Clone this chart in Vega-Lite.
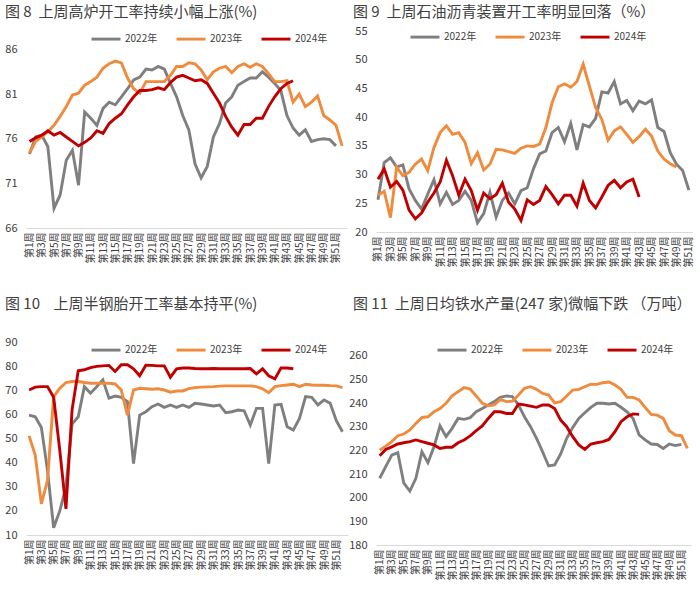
{
"$schema":"https://vega.github.io/schema/vega-lite/v6.json",
"background":"white",
"padding":{"left":4,"top":5,"right":2,"bottom":2},
"config":{
 "font":"Noto Sans CJK SC",
 "view":{"stroke":null},
 "line":{"strokeWidth":2.9},
 "axisX":{"labelExpr":"'第' + datum.value + '周'","labelAngle":-90,"labelFontSize":10,"labelColor":"#404040","ticks":false,"grid":false,"domainColor":"#d9d9d9","domainWidth":1,"title":null,"labelPadding":4,"labelOverlap":false,"labelBound":false,"labelFlush":false},
 "axisY":{"labelFontSize":11,"labelColor":"#404040","ticks":false,"grid":false,"domain":false,"title":null,"labelPadding":9},
 "legend":{"orient":"none","direction":"horizontal","title":null,"symbolType":"stroke","symbolStrokeWidth":3,"symbolSize":840,"labelFontSize":10,"labelColor":"#404040","labelOffset":3,"columnPadding":12},
 "title":{"anchor":"start","frame":"group","fontSize":15,"fontWeight":"normal","color":"#404040"}
},
"datasets":{
"p1":[
{"周":1,"2022年":74.3,"2023年":74.4,"2024年":75.7},
{"周":2,"2022年":76.2,"2023年":75.7,"2024年":76.1},
{"周":3,"2022年":76.4,"2023年":76.2,"2024年":76.4},
{"周":4,"2022年":75.1,"2023年":76.8,"2024年":76.9},
{"周":5,"2022年":68.2,"2023年":77.5,"2024年":76.4},
{"周":6,"2022年":69.7,"2023年":78.5,"2024年":76.7},
{"周":7,"2022年":73.6,"2023年":79.6,"2024年":76.2},
{"周":8,"2022年":74.7,"2023年":80.9,"2024年":75.7},
{"周":9,"2022年":70.8,"2023年":81.1,"2024年":75.2},
{"周":10,"2022年":79.0,"2023年":82.0,"2024年":75.6},
{"周":11,"2022年":78.3,"2023年":82.4,"2024年":76.1},
{"周":12,"2022年":77.5,"2023年":82.9,"2024年":76.9},
{"周":13,"2022年":79.4,"2023年":83.9,"2024年":76.6},
{"周":14,"2022年":80.1,"2023年":84.4,"2024年":77.7},
{"周":15,"2022年":79.8,"2023年":84.7,"2024年":78.3},
{"周":16,"2022年":80.7,"2023年":84.5,"2024年":78.8},
{"周":17,"2022年":81.6,"2023年":82.8,"2024年":79.8},
{"周":18,"2022年":82.6,"2023年":81.6,"2024年":80.7},
{"周":19,"2022年":82.9,"2023年":81.1,"2024年":81.4},
{"周":20,"2022年":83.8,"2023年":82.4,"2024年":81.4},
{"周":21,"2022年":83.7,"2023年":82.4,"2024年":81.5},
{"周":22,"2022年":84.1,"2023年":82.4,"2024年":81.7},
{"周":23,"2022年":83.8,"2023年":82.4,"2024年":81.5},
{"周":24,"2022年":82.2,"2023年":83.1,"2024年":82.3},
{"周":25,"2022年":80.7,"2023年":84.1,"2024年":82.9},
{"周":26,"2022年":78.6,"2023年":84.1,"2024年":83.1},
{"周":27,"2022年":77.0,"2023年":84.5,"2024年":82.8},
{"周":28,"2022年":73.2,"2023年":84.4,"2024年":82.5},
{"周":29,"2022年":71.6,"2023年":83.7,"2024年":82.6},
{"周":30,"2022年":72.9,"2023年":82.6,"2024年":82.2},
{"周":31,"2022年":76.2,"2023年":83.5,"2024年":81.1},
{"周":32,"2022年":77.7,"2023年":83.9,"2024年":80.0},
{"周":33,"2022年":80.0,"2023年":84.1,"2024年":78.5},
{"周":34,"2022年":80.7,"2023年":83.4,"2024年":77.3},
{"周":35,"2022年":82.0,"2023年":84.1,"2024年":76.4},
{"周":36,"2022年":82.4,"2023年":84.4,"2024年":77.6},
{"周":37,"2022年":82.8,"2023年":84.0,"2024年":77.6},
{"周":38,"2022年":82.8,"2023年":84.4,"2024年":78.3},
{"周":39,"2022年":83.5,"2023年":84.1,"2024年":78.3},
{"周":40,"2022年":82.9,"2023年":83.3,"2024年":79.6},
{"周":41,"2022年":82.2,"2023年":82.4,"2024年":80.7},
{"周":42,"2022年":81.4,"2023年":82.4,"2024年":81.6},
{"周":43,"2022年":78.6,"2023年":82.5,"2024年":82.2},
{"周":44,"2022年":77.2,"2023年":80.1,"2024年":82.5},
{"周":45,"2022年":76.4,"2023年":81.0},
{"周":46,"2022年":77.0,"2023年":79.6},
{"周":47,"2022年":75.7,"2023年":80.1},
{"周":48,"2022年":75.9,"2023年":80.8},
{"周":49,"2022年":76.0,"2023年":78.6},
{"周":50,"2022年":75.9,"2023年":78.1},
{"周":51,"2022年":75.2,"2023年":77.5},
{"周":52,"2023年":75.2}
],
"p2":[
{"周":1,"2022年":25.6,"2023年":26.4,"2024年":29.2},
{"周":2,"2022年":32.1,"2023年":27.1,"2024年":31.0},
{"周":3,"2022年":32.9,"2023年":22.5,"2024年":27.8},
{"周":4,"2022年":31.3,"2023年":31.3,"2024年":28.8},
{"周":5,"2022年":31.7,"2023年":29.8,"2024年":27.3},
{"周":6,"2022年":27.5,"2023年":30.4,"2024年":23.8},
{"周":7,"2022年":25.5,"2023年":31.8,"2024年":22.3},
{"周":8,"2022年":24.0,"2023年":32.7,"2024年":23.3},
{"周":9,"2022年":26.6,"2023年":30.7,"2024年":25.2},
{"周":10,"2022年":29.1,"2023年":34.7,"2024年":26.8},
{"周":11,"2022年":24.9,"2023年":37.3,"2024年":28.7},
{"周":12,"2022年":26.9,"2023年":38.5,"2024年":32.5},
{"周":13,"2022年":24.8,"2023年":37.0,"2024年":29.8},
{"周":14,"2022年":25.5,"2023年":37.3,"2024年":26.4},
{"周":15,"2022年":27.1,"2023年":35.6,"2024年":29.2},
{"周":16,"2022年":25.5,"2023年":31.9,"2024年":27.2},
{"周":17,"2022年":21.6,"2023年":33.8,"2024年":23.8},
{"周":18,"2022年":23.2,"2023年":30.8,"2024年":26.8},
{"周":19,"2022年":26.9,"2023年":31.8,"2024年":25.8},
{"周":20,"2022年":22.6,"2023年":34.4,"2024年":26.5},
{"周":21,"2022年":25.5,"2023年":34.3,"2024年":28.5},
{"周":22,"2022年":26.8,"2023年":34.0,"2024年":25.2},
{"周":23,"2022年":24.9,"2023年":33.7,"2024年":24.0},
{"周":24,"2022年":27.2,"2023年":34.6,"2024年":22.0},
{"周":25,"2022年":27.7,"2023年":35.0,"2024年":25.6},
{"周":26,"2022年":31.0,"2023年":34.9,"2024年":24.8},
{"周":27,"2022年":33.6,"2023年":35.3,"2024年":25.5},
{"周":28,"2022年":34.1,"2023年":38.2,"2024年":27.9},
{"周":29,"2022年":37.3,"2023年":42.5,"2024年":26.5},
{"周":30,"2022年":38.2,"2023年":45.3,"2024年":24.9},
{"周":31,"2022年":35.7,"2023年":45.8,"2024年":26.4},
{"周":32,"2022年":38.9,"2023年":45.2,"2024年":26.4},
{"周":33,"2022年":34.3,"2023年":46.2,"2024年":24.5},
{"周":34,"2022年":38.7,"2023年":49.2,"2024年":28.5},
{"周":35,"2022年":38.3,"2023年":45.4,"2024年":25.5},
{"周":36,"2022年":39.8,"2023年":41.7,"2024年":24.2},
{"周":37,"2022年":44.4,"2023年":39.6,"2024年":26.1},
{"周":38,"2022年":44.2,"2023年":36.0,"2024年":28.1},
{"周":39,"2022年":46.2,"2023年":37.6,"2024年":29.0},
{"周":40,"2022年":42.3,"2023年":38.3,"2024年":27.7},
{"周":41,"2022年":42.9,"2023年":37.0,"2024年":28.7},
{"周":42,"2022年":41.1,"2023年":35.6,"2024年":29.2},
{"周":43,"2022年":42.8,"2023年":36.6,"2024年":26.1},
{"周":44,"2022年":42.3,"2023年":37.9},
{"周":45,"2022年":43.0,"2023年":36.7},
{"周":46,"2022年":38.2,"2023年":34.1},
{"周":47,"2022年":37.5,"2023年":32.7},
{"周":48,"2022年":33.8,"2023年":31.9},
{"周":49,"2022年":31.8,"2023年":31.3},
{"周":50,"2022年":30.7},
{"周":51,"2022年":27.3}
],
"p3":[
{"周":1,"2022年":59.7,"2023年":51.1,"2024年":70.1},
{"周":2,"2022年":59.0,"2023年":43.1,"2024年":71.3},
{"周":3,"2022年":54.6,"2023年":22.9,"2024年":71.5},
{"周":4,"2022年":36.8,"2023年":32.6,"2024年":71.5},
{"周":5,"2022年":13.0,"2023年":67.4,"2024年":67.1},
{"周":6,"2022年":20.0,"2023年":70.8,"2024年":45.1},
{"周":7,"2022年":30.0,"2023年":73.2,"2024年":20.8},
{"周":8,"2022年":56.0,"2023年":73.6,"2024年":62.0},
{"周":9,"2022年":59.0,"2023年":73.6,"2024年":78.1},
{"周":10,"2022年":71.5,"2023年":73.2,"2024年":78.5},
{"周":11,"2022年":68.8,"2023年":72.9,"2024年":79.4},
{"周":12,"2022年":71.5,"2023年":72.9,"2024年":79.9},
{"周":13,"2022年":74.3,"2023年":72.9,"2024年":80.1},
{"周":14,"2022年":66.7,"2023年":72.9,"2024年":80.3},
{"周":15,"2022年":67.6,"2023年":72.6,"2024年":77.8},
{"周":16,"2022年":67.1,"2023年":70.1,"2024年":80.6},
{"周":17,"2022年":65.3,"2023年":59.7,"2024年":80.6},
{"周":18,"2022年":39.6,"2023年":70.1,"2024年":78.9},
{"周":19,"2022年":59.7,"2023年":70.8,"2024年":76.0},
{"周":20,"2022年":61.1,"2023年":70.6,"2024年":80.4},
{"周":21,"2022年":63.2,"2023年":70.4,"2024年":80.3},
{"周":22,"2022年":64.3,"2023年":70.6,"2024年":80.1},
{"周":23,"2022年":62.9,"2023年":70.1,"2024年":80.1},
{"周":24,"2022年":63.9,"2023年":69.2,"2024年":75.4},
{"周":25,"2022年":62.9,"2023年":69.7,"2024年":78.9},
{"周":26,"2022年":63.9,"2023年":69.7,"2024年":79.2},
{"周":27,"2022年":62.9,"2023年":70.7,"2024年":79.2},
{"周":28,"2022年":64.6,"2023年":71.1,"2024年":79.0},
{"周":29,"2022年":64.3,"2023年":71.3,"2024年":78.9},
{"周":30,"2022年":63.9,"2023年":71.4,"2024年":78.9},
{"周":31,"2022年":63.5,"2023年":71.5,"2024年":79.0},
{"周":32,"2022年":63.9,"2023年":71.7,"2024年":78.9},
{"周":33,"2022年":60.7,"2023年":71.8,"2024年":78.9},
{"周":34,"2022年":61.1,"2023年":71.8,"2024年":78.9},
{"周":35,"2022年":61.8,"2023年":71.8,"2024年":78.9},
{"周":36,"2022年":61.5,"2023年":71.8,"2024年":78.9},
{"周":37,"2022年":55.6,"2023年":71.8,"2024年":79.0},
{"周":38,"2022年":62.5,"2023年":71.5,"2024年":76.8},
{"周":39,"2022年":62.5,"2023年":70.6,"2024年":78.9},
{"周":40,"2022年":39.6,"2023年":69.0,"2024年":76.0},
{"周":41,"2022年":63.9,"2023年":71.5,"2024年":74.7},
{"周":42,"2022年":64.2,"2023年":71.9,"2024年":79.2},
{"周":43,"2022年":54.9,"2023年":72.2,"2024年":79.2},
{"周":44,"2022年":53.5,"2023年":72.5,"2024年":78.9},
{"周":45,"2022年":58.3,"2023年":71.5},
{"周":46,"2022年":67.4,"2023年":72.5},
{"周":47,"2022年":67.1,"2023年":72.2},
{"周":48,"2022年":63.9,"2023年":72.1},
{"周":49,"2022年":66.0,"2023年":72.1},
{"周":50,"2022年":64.6,"2023年":71.9},
{"周":51,"2022年":57.4,"2023年":71.8},
{"周":52,"2022年":52.8,"2023年":71.1}
],
"p4":[
{"周":1,"2022年":208.2,"2023年":220.1,"2024年":217.7},
{"周":2,"2022年":213.1,"2023年":221.8,"2024年":220.4},
{"周":3,"2022年":218.0,"2023年":223.7,"2024年":221.5},
{"周":4,"2022年":219.0,"2023年":226.2,"2024年":222.7},
{"周":5,"2022年":206.1,"2023年":226.9,"2024年":223.2},
{"周":6,"2022年":202.8,"2023年":228.6,"2024年":223.7},
{"周":7,"2022年":208.2,"2023年":231.4,"2024年":224.4},
{"周":8,"2022年":219.4,"2023年":233.9,"2024年":223.7},
{"周":9,"2022年":214.8,"2023年":234.2,"2024年":223.0},
{"周":10,"2022年":221.5,"2023年":236.3,"2024年":222.3},
{"周":11,"2022年":230.4,"2023年":237.7,"2024年":220.8},
{"周":12,"2022年":225.8,"2023年":239.9,"2024年":221.3},
{"周":13,"2022年":229.3,"2023年":243.0,"2024年":221.3},
{"周":14,"2022年":233.5,"2023年":244.8,"2024年":223.2},
{"周":15,"2022年":233.1,"2023年":246.5,"2024年":224.4},
{"周":16,"2022年":233.8,"2023年":245.9,"2024年":226.1},
{"周":17,"2022年":236.3,"2023年":243.0,"2024年":228.3},
{"周":18,"2022年":237.7,"2023年":239.9,"2024年":230.3},
{"周":19,"2022年":239.2,"2023年":238.9,"2024年":233.5},
{"周":20,"2022年":240.6,"2023年":239.2,"2024年":236.3},
{"周":21,"2022年":242.4,"2023年":241.5,"2024年":236.3},
{"周":22,"2022年":243.0,"2023年":240.6,"2024年":235.6},
{"周":23,"2022年":242.7,"2023年":240.8,"2024年":235.6},
{"周":24,"2022年":239.2,"2023年":243.4,"2024年":239.6},
{"周":25,"2022年":234.2,"2023年":246.2,"2024年":239.2},
{"周":26,"2022年":230.0,"2023年":246.9,"2024年":238.7},
{"周":27,"2022年":225.1,"2023年":245.8,"2024年":238.2},
{"周":28,"2022年":219.4,"2023年":244.1,"2024年":239.2},
{"周":29,"2022年":213.4,"2023年":243.4,"2024年":239.2},
{"周":30,"2022年":213.8,"2023年":240.1,"2024年":237.7},
{"周":31,"2022年":218.5,"2023年":240.6,"2024年":232.8},
{"周":32,"2022年":225.1,"2023年":243.0,"2024年":230.0},
{"周":33,"2022年":229.7,"2023年":245.5,"2024年":225.8},
{"周":34,"2022年":233.5,"2023年":245.8,"2024年":222.3},
{"周":35,"2022年":235.9,"2023年":246.9,"2024年":220.4},
{"周":36,"2022年":238.2,"2023年":248.0,"2024年":222.7},
{"周":37,"2022年":239.9,"2023年":247.9,"2024年":223.2},
{"周":38,"2022年":239.9,"2023年":248.6,"2024年":223.7},
{"周":39,"2022年":239.6,"2023年":248.9,"2024年":224.6},
{"周":40,"2022年":239.9,"2023年":247.6,"2024年":227.9},
{"周":41,"2022年":238.2,"2023年":245.8,"2024年":232.1},
{"周":42,"2022年":236.3,"2023年":242.4,"2024年":234.2},
{"周":43,"2022年":233.5,"2023年":242.4,"2024年":235.4},
{"周":44,"2022年":226.5,"2023年":241.3,"2024年":235.2},
{"周":45,"2022年":224.4,"2023年":238.2},
{"周":46,"2022年":222.7,"2023年":235.2},
{"周":47,"2022年":222.5,"2023年":234.9},
{"周":48,"2022年":220.8,"2023年":233.5},
{"周":49,"2022年":222.7,"2023年":228.3},
{"周":50,"2022年":222.0,"2023年":226.5},
{"周":51,"2022年":222.5,"2023年":226.2},
{"周":52,"2023年":220.8}
]
},
"columns":2,
"bounds":"flush",
"spacing":{"row":110,"column":28},
"resolve":{"scale":{"x":"independent","y":"independent","color":"independent"},"legend":{"color":"independent"}},
"concat":[
{
 "width":321,"height":197,
 "title":{"text":"图 8\u00a0\u00a0上周高炉开工率持续小幅上涨(%)","dx":-21,"offset":3},
 "data":{"name":"p1"},
 "transform":[{"fold":["2022年","2023年","2024年"],"as":["年份","值"]}],
 "mark":{"type":"line"},
 "encoding":{
  "x":{"field":"周","type":"quantitative","scale":{"domain":[0.43,52.8],"nice":false,"zero":false},"axis":{"values":[1,3,5,7,9,11,13,15,17,19,21,23,25,27,29,31,33,35,37,39,41,43,45,47,49,51]}},
  "y":{"field":"值","type":"quantitative","scale":{"domain":[66,88.07],"nice":false,"zero":false},"axis":{"values":[66,71,76,81,86]}},
  "color":{"field":"年份","type":"nominal","scale":{"domain":["2022年","2023年","2024年"],"range":["#7f7f7f","#f08a3c","#c00000"]},"legend":{"legendX":64,"legendY":-8}}
 }
},
{
 "width":316,"height":201,
 "title":{"text":"图 9\u00a0\u00a0上周石油沥青装置开工率明显回落（%）","dx":-23,"offset":1},
 "data":{"name":"p2"},
 "transform":[{"fold":["2022年","2023年","2024年"],"as":["年份","值"]}],
 "mark":{"type":"line"},
 "encoding":{
  "x":{"field":"周","type":"quantitative","scale":{"domain":[0.68,51.5],"nice":false,"zero":false},"axis":{"values":[1,3,5,7,9,11,13,15,17,19,21,23,25,27,29,31,33,35,37,39,41,43,45,47,49,51]}},
  "y":{"field":"值","type":"quantitative","scale":{"domain":[20,55],"nice":false,"zero":false},"axis":{"values":[20,25,30,35,40,45,50,55]}},
  "color":{"field":"年份","type":"nominal","scale":{"domain":["2022年","2023年","2024年"],"range":["#7f7f7f","#f08a3c","#c00000"]},"legend":{"legendX":33,"legendY":-10}}
 }
},
{
 "width":322,"height":193,
 "title":{"text":"图 10\u00a0\u00a0\u00a0\u00a0上周半钢胎开工率基本持平(%)","dx":-21,"offset":22},
 "data":{"name":"p3"},
 "transform":[{"fold":["2022年","2023年","2024年"],"as":["年份","值"]}],
 "mark":{"type":"line"},
 "encoding":{
  "x":{"field":"周","type":"quantitative","scale":{"domain":[0.5,52.9],"nice":false,"zero":false},"axis":{"values":[1,3,5,7,9,11,13,15,17,19,21,23,25,27,29,31,33,35,37,39,41,43,45,47,49,51]}},
  "y":{"field":"值","type":"quantitative","scale":{"domain":[10,90],"nice":false,"zero":false},"axis":{"values":[10,20,30,40,50,60,70,80,90]}},
  "color":{"field":"年份","type":"nominal","scale":{"domain":["2022年","2023年","2024年"],"range":["#7f7f7f","#f08a3c","#c00000"]},"legend":{"legendX":64,"legendY":-8}}
 }
},
{
 "width":315,"height":203,
 "title":{"text":"图 11\u00a0\u00a0上周日均铁水产量(247 家)微幅下跌 （万吨）","dx":-23,"offset":22},
 "data":{"name":"p4"},
 "transform":[{"fold":["2022年","2023年","2024年"],"as":["年份","值"]}],
 "mark":{"type":"line"},
 "encoding":{
  "x":{"field":"周","type":"quantitative","scale":{"domain":[0.39,52.6],"nice":false,"zero":false},"axis":{"values":[1,3,5,7,9,11,13,15,17,19,21,23,25,27,29,31,33,35,37,39,41,43,45,47,49,51]}},
  "y":{"field":"值","type":"quantitative","scale":{"domain":[180,265.8],"nice":false,"zero":false},"axis":{"values":[180,190,200,210,220,230,240,250,260]}},
  "color":{"field":"年份","type":"nominal","scale":{"domain":["2022年","2023年","2024年"],"range":["#7f7f7f","#f08a3c","#c00000"]},"legend":{"legendX":60,"legendY":-8}}
 }
}
]
}
